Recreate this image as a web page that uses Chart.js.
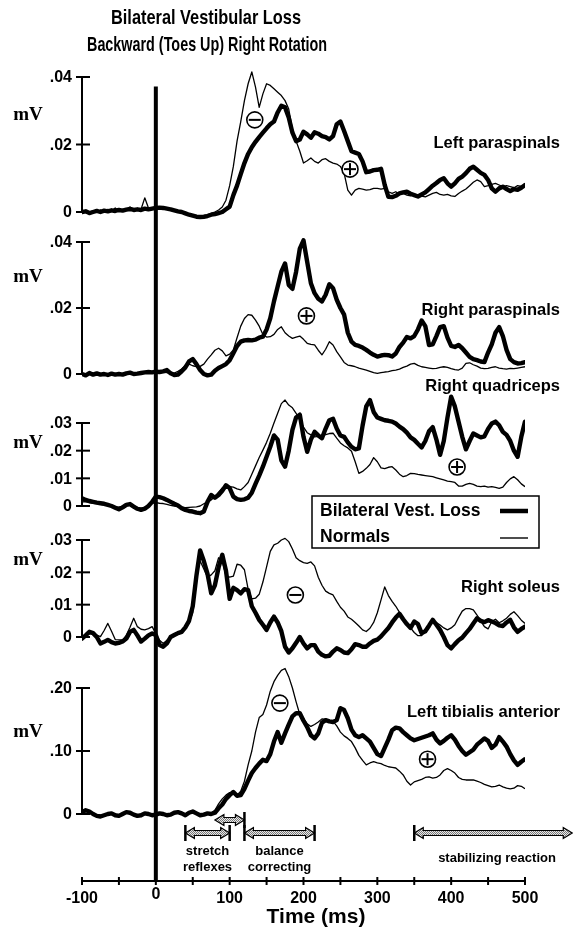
<!DOCTYPE html>
<html><head><meta charset="utf-8">
<script src="https://cdn.jsdelivr.net/npm/chart.js@4.4.0/dist/chart.umd.min.js"></script>
<style>html,body{margin:0;padding:0;background:#fff}canvas{display:block}</style>
</head><body>
<canvas id="c" width="573" height="930"></canvas>
<script>
// ---------- DATA ----------
const times = [-100,-95,-90,-85,-80,-75,-70,-65,-60,-55,-50,-45,-40,-35,-30,-25,-20,-15,-10,-5,
0,5,10,15,20,25,30,35,40,45,50,55,60,65,70,75,80,85,90,95,
100,105,110,115,120,125,130,135,140,145,150,155,160,165,170,175,180,185,190,195,
200,205,210,215,220,225,230,235,240,245,250,255,260,265,270,275,280,285,290,295,
300,305,310,315,320,325,330,335,340,345,350,355,360,365,370,375,380,385,390,395,
400,405,410,415,420,425,430,435,440,445,450,455,460,465,470,475,480,485,490,495,500];

const leftParaLoss = [0.000,0.0002,-0.0003,0.0000,0.0003,0.0000,0.0004,0.0002,0.0005,0.0003,0.0006,0.0004,0.0007,0.0009,0.0006,0.0008,0.0006,0.0010,0.0008,0.0010,
0.0012,0.0013,0.0012,0.0010,0.0008,0.0005,0.0002,0.0000,-0.0004,-0.0008,-0.0011,-0.0014,-0.0015,-0.0014,-0.0012,-0.0008,-0.0006,-0.0003,0.0000,0.0008,
0.0016,0.0050,0.0078,0.0112,0.0145,0.0172,0.0192,0.0208,0.0222,0.0235,0.0248,0.0260,0.0268,0.0295,0.0315,0.0310,0.0280,0.0235,0.0210,0.0215,
0.0238,0.0230,0.0220,0.0236,0.0232,0.0225,0.0222,0.0215,0.0225,0.0260,0.0268,0.0240,0.0210,0.0180,0.0176,0.0172,0.0150,0.0118,0.0120,0.0124,
0.0125,0.0128,0.0080,0.0045,0.0044,0.0048,0.0055,0.0058,0.0060,0.0054,0.0050,0.0046,0.0052,0.0058,0.0068,0.0078,0.0086,0.0095,0.0100,0.0085,
0.0075,0.0085,0.0098,0.0105,0.0115,0.0128,0.0134,0.0125,0.0116,0.0110,0.0095,0.0070,0.0060,0.0070,0.0075,0.0068,0.0062,0.0068,0.0066,0.0072,0.0080];
const leftParaNorm = [0.0000,0.0003,-0.0002,0.0004,0.0000,0.0006,0.0002,0.0008,0.0003,0.0012,0.0004,0.0008,0.0006,0.0015,0.0007,0.0010,0.0008,0.0042,0.0012,0.0009,
0.0011,0.0013,0.0012,0.0010,0.0008,0.0005,0.0002,0.0000,-0.0003,-0.0006,-0.0009,-0.0012,-0.0012,-0.0011,-0.0008,-0.0004,0.0000,0.0006,0.0015,0.0035,
0.0078,0.0135,0.0210,0.0268,0.0330,0.0380,0.0415,0.0370,0.0310,0.0350,0.0380,0.0375,0.0365,0.0355,0.0345,0.0330,0.0305,0.0245,0.0210,0.0180,
0.0145,0.0152,0.0160,0.0150,0.0145,0.0155,0.0158,0.0150,0.0145,0.0142,0.0135,0.0115,0.0065,0.0050,0.0065,0.0070,0.0068,0.0065,0.0066,0.0070,
0.0070,0.0068,0.0070,0.0060,0.0055,0.0060,0.0052,0.0055,0.0050,0.0048,0.0052,0.0050,0.0047,0.0045,0.0050,0.0055,0.0058,0.0052,0.0050,0.0052,
0.0048,0.0046,0.0055,0.0062,0.0068,0.0078,0.0088,0.0095,0.0090,0.0075,0.0078,0.0082,0.0085,0.0080,0.0075,0.0078,0.0075,0.0072,0.0078,0.0076,0.0078];

const rightParaLoss = [0.0000,-0.0004,0.0003,-0.0002,0.0002,-0.0002,0.0000,-0.0003,0.0001,-0.0002,0.0000,-0.0002,0.0002,0.0004,0.0000,0.0001,0.0003,0.0005,0.0006,0.0005,
0.0007,0.0006,0.0008,0.0012,0.0002,-0.0003,-0.0002,0.0008,0.0020,0.0038,0.0045,0.0030,0.0012,0.0000,-0.0004,-0.0002,0.0010,0.0018,0.0024,0.0030,
0.0042,0.0063,0.0085,0.0098,0.0102,0.0103,0.0102,0.0104,0.0110,0.0113,0.0135,0.0169,0.0220,0.0265,0.0310,0.0335,0.0270,0.0258,0.0310,0.0380,
0.0405,0.0340,0.0275,0.0245,0.0228,0.0220,0.0240,0.0272,0.0260,0.0225,0.0200,0.0180,0.0125,0.0098,0.0088,0.0085,0.0080,0.0073,0.0065,0.0058,
0.0053,0.0056,0.0058,0.0057,0.0053,0.0062,0.0082,0.0095,0.0112,0.0108,0.0115,0.0135,0.0162,0.0145,0.0088,0.0090,0.0115,0.0142,0.0145,0.0110,
0.0085,0.0082,0.0088,0.0078,0.0065,0.0052,0.0045,0.0042,0.0038,0.0036,0.0065,0.0090,0.0125,0.0142,0.0115,0.0073,0.0045,0.0036,0.0032,0.0033,0.0036];
const rightParaNorm = [0.0000,0.0000,0.0002,-0.0001,0.0001,0.0000,0.0002,0.0000,0.0001,0.0002,0.0001,0.0000,0.0002,0.0003,0.0002,0.0003,0.0004,0.0005,0.0004,0.0006,
0.0008,0.0007,0.0005,0.0004,0.0002,0.0003,0.0008,0.0015,0.0027,0.0030,0.0025,0.0022,0.0023,0.0030,0.0045,0.0058,0.0072,0.0078,0.0070,0.0055,
0.0060,0.0073,0.0110,0.0145,0.0168,0.0180,0.0178,0.0163,0.0145,0.0120,0.0112,0.0113,0.0120,0.0135,0.0143,0.0125,0.0115,0.0108,0.0112,0.0115,
0.0105,0.0093,0.0090,0.0088,0.0072,0.0058,0.0075,0.0098,0.0088,0.0068,0.0052,0.0035,0.0027,0.0025,0.0022,0.0018,0.0015,0.0012,0.0008,0.0004,
0.0002,0.0004,0.0006,0.0007,0.0010,0.0012,0.0015,0.0020,0.0024,0.0030,0.0032,0.0026,0.0022,0.0020,0.0018,0.0016,0.0017,0.0020,0.0022,0.0020,
0.0016,0.0013,0.0012,0.0018,0.0032,0.0034,0.0028,0.0024,0.0018,0.0016,0.0017,0.0020,0.0022,0.0018,0.0016,0.0015,0.0017,0.0016,0.0018,0.0020,0.0022];

const rightQuadLoss = [0.0028,0.0022,0.0018,0.0015,0.0012,0.0010,0.0008,0.0004,0.0000,-0.0006,-0.0012,-0.0005,0.0004,0.0007,-0.0002,-0.0010,-0.0014,-0.0010,0.0000,0.0015,
0.0034,0.0032,0.0028,0.0022,0.0015,0.0008,0.0002,-0.0008,-0.0014,-0.0018,-0.0020,-0.0024,-0.0026,-0.0020,0.0015,0.0040,0.0030,0.0040,0.0055,0.0075,
0.0065,0.0034,0.0025,0.0022,0.0024,0.0030,0.0048,0.0080,0.0110,0.0142,0.0178,0.0214,0.0255,0.0240,0.0165,0.0142,0.0200,0.0275,0.0320,0.0330,
0.0250,0.0196,0.0240,0.0268,0.0255,0.0245,0.0280,0.0310,0.0315,0.0280,0.0255,0.0250,0.0230,0.0214,0.0205,0.0208,0.0290,0.0360,0.0383,0.0340,
0.0320,0.0315,0.0310,0.0308,0.0305,0.0298,0.0287,0.0278,0.0265,0.0248,0.0239,0.0225,0.0212,0.0235,0.0270,0.0285,0.0240,0.0185,0.0235,0.0320,
0.0395,0.0360,0.0305,0.0250,0.0205,0.0235,0.0262,0.0255,0.0248,0.0252,0.0278,0.0298,0.0305,0.0292,0.0268,0.0257,0.0235,0.0200,0.0178,0.0250,0.0305];
const rightQuadNorm = [0.0015,0.0016,0.0012,0.0010,0.0009,0.0006,0.0004,0.0003,0.0000,-0.0003,-0.0004,0.0000,0.0002,0.0004,0.0000,-0.0005,-0.0008,-0.0004,0.0002,0.0010,
0.0012,0.0010,0.0009,0.0006,0.0002,0.0000,-0.0002,-0.0004,-0.0006,-0.0005,-0.0004,-0.0003,0.0000,0.0008,0.0015,0.0022,0.0035,0.0050,0.0065,0.0070,
0.0070,0.0068,0.0062,0.0058,0.0070,0.0085,0.0115,0.0145,0.0175,0.0202,0.0230,0.0263,0.0300,0.0335,0.0370,0.0383,0.0365,0.0355,0.0335,0.0310,
0.0285,0.0265,0.0257,0.0250,0.0252,0.0255,0.0258,0.0262,0.0263,0.0245,0.0228,0.0218,0.0210,0.0198,0.0160,0.0118,0.0125,0.0136,0.0150,0.0175,
0.0160,0.0138,0.0135,0.0140,0.0142,0.0130,0.0115,0.0106,0.0110,0.0118,0.0117,0.0114,0.0112,0.0110,0.0108,0.0106,0.0102,0.0098,0.0094,0.0090,
0.0088,0.0085,0.0072,0.0072,0.0078,0.0082,0.0078,0.0072,0.0070,0.0072,0.0068,0.0070,0.0067,0.0064,0.0068,0.0085,0.0098,0.0106,0.0095,0.0080,0.0070];

const rightSoleusLoss = [-0.0005,0.0005,0.0016,0.0012,0.0000,-0.0020,-0.0015,-0.0009,-0.0016,-0.0020,-0.0018,-0.0014,-0.0005,0.0016,0.0022,0.0005,-0.0014,-0.0005,0.0005,0.0011,
0.0006,-0.0025,-0.0030,-0.0020,0.0000,0.0006,0.0012,0.0016,0.0030,0.0050,0.0095,0.0190,0.0268,0.0235,0.0195,0.0135,0.0160,0.0215,0.0254,0.0205,
0.0118,0.0152,0.0145,0.0135,0.0148,0.0145,0.0095,0.0075,0.0053,0.0038,0.0022,0.0045,0.0063,0.0045,0.0018,-0.0030,-0.0048,-0.0035,-0.0018,0.0000,
-0.0020,-0.0035,-0.0025,-0.0025,-0.0045,-0.0055,-0.0060,-0.0058,-0.0045,-0.0035,-0.0040,-0.0048,-0.0050,-0.0038,-0.0022,-0.0025,-0.0030,-0.0030,-0.0020,-0.0012,
-0.0008,0.0002,0.0015,0.0028,0.0045,0.0060,0.0072,0.0055,0.0040,0.0028,0.0048,0.0040,0.0012,0.0018,0.0035,0.0053,0.0038,0.0022,0.0000,-0.0025,
-0.0035,-0.0022,-0.0010,-0.0002,0.0012,0.0025,0.0042,0.0058,0.0050,0.0046,0.0052,0.0048,0.0043,0.0036,0.0034,0.0045,0.0053,0.0030,0.0016,0.0025,0.0032];
const rightSoleusNorm = [0.0000,0.0006,0.0010,0.0011,0.0006,0.0001,0.0020,0.0042,0.0018,-0.0008,-0.0009,-0.0009,0.0005,0.0030,0.0058,0.0032,0.0024,0.0022,0.0026,0.0032,
0.0010,-0.0010,-0.0020,-0.0010,0.0000,0.0004,0.0008,0.0014,0.0025,0.0045,0.0075,0.0190,0.0235,0.0210,0.0185,0.0192,0.0205,0.0245,0.0235,0.0190,
0.0185,0.0188,0.0225,0.0222,0.0208,0.0148,0.0118,0.0120,0.0132,0.0170,0.0217,0.0265,0.0285,0.0290,0.0300,0.0305,0.0295,0.0272,0.0245,0.0236,
0.0230,0.0228,0.0232,0.0220,0.0185,0.0160,0.0142,0.0135,0.0130,0.0110,0.0092,0.0080,0.0062,0.0055,0.0045,0.0034,0.0022,0.0017,0.0027,0.0045,
0.0075,0.0115,0.0155,0.0128,0.0110,0.0095,0.0076,0.0060,0.0042,0.0028,0.0014,0.0004,0.0004,0.0018,0.0035,0.0052,0.0045,0.0037,0.0028,0.0022,
0.0028,0.0038,0.0060,0.0080,0.0088,0.0088,0.0084,0.0068,0.0050,0.0032,0.0025,0.0048,0.0055,0.0044,0.0050,0.0058,0.0070,0.0078,0.0066,0.0052,0.0042];

const leftTibLoss = [0.003,0.006,0.004,0.000,-0.003,-0.004,-0.002,0.000,0.001,-0.002,-0.003,0.000,0.003,0.002,-0.001,-0.003,-0.002,0.001,0.000,-0.002,
-0.001,0.001,0.000,-0.002,-0.001,0.002,0.003,0.001,-0.002,0.002,0.004,0.001,-0.002,-0.001,0.001,0.000,0.002,0.009,0.015,0.024,
0.030,0.035,0.029,0.030,0.040,0.053,0.065,0.073,0.080,0.086,0.084,0.095,0.115,0.130,0.113,0.128,0.142,0.155,0.160,0.160,
0.148,0.138,0.125,0.120,0.128,0.145,0.149,0.147,0.146,0.149,0.168,0.165,0.152,0.134,0.125,0.122,0.125,0.120,0.115,0.105,
0.095,0.092,0.105,0.118,0.133,0.137,0.136,0.130,0.125,0.120,0.117,0.119,0.121,0.123,0.125,0.128,0.118,0.112,0.116,0.121,
0.125,0.118,0.108,0.100,0.094,0.098,0.102,0.110,0.115,0.120,0.116,0.105,0.110,0.122,0.115,0.107,0.095,0.085,0.078,0.083,0.087];
const leftTibNorm = [0.002,0.004,0.002,0.000,-0.002,-0.002,-0.001,0.000,0.001,-0.001,-0.002,0.000,0.002,0.001,0.000,-0.002,-0.001,0.001,0.000,-0.001,
0.000,0.001,0.000,-0.001,0.000,0.001,0.002,0.001,-0.001,0.001,0.002,0.001,0.000,0.000,0.001,0.002,0.006,0.016,0.024,0.030,
0.034,0.034,0.030,0.036,0.052,0.078,0.100,0.130,0.153,0.158,0.173,0.195,0.210,0.220,0.228,0.231,0.218,0.200,0.178,0.158,
0.152,0.143,0.139,0.142,0.146,0.151,0.150,0.148,0.147,0.140,0.130,0.124,0.120,0.115,0.105,0.093,0.085,0.078,0.081,0.083,
0.081,0.080,0.077,0.075,0.074,0.073,0.068,0.062,0.052,0.046,0.051,0.053,0.055,0.058,0.059,0.057,0.058,0.062,0.069,0.072,
0.069,0.065,0.058,0.055,0.054,0.054,0.054,0.052,0.050,0.047,0.045,0.043,0.044,0.046,0.043,0.041,0.040,0.041,0.045,0.044,0.040];

const muscleNames = ['Left paraspinals','Right paraspinals','Right quadriceps','Right soleus','Left tibialis anterior'];
const seriesNames = ['Bilateral Vest. Loss','Normals'];
const p1Ticks = [0, 0.02, 0.04], p1TickLabels = ['0', '.02', '.04'];
const p2Ticks = [0, 0.02, 0.04], p2TickLabels = ['0', '.02', '.04'];
const p3Ticks = [0, 0.01, 0.02, 0.03], p3TickLabels = ['0', '.01', '.02', '.03'];
const p4Ticks = [0, 0.01, 0.02, 0.03], p4TickLabels = ['0', '.01', '.02', '.03'];
const p5Ticks = [0, 0.10, 0.20], p5TickLabels = ['0', '.10', '.20'];
const xTicks = [-100,-50,0,50,100,150,200,250,300,350,400,450,500];
const xTickLabels = ['-100','','0','','100','','200','','300','','400','','500'];
// difference markers: [panel, time, value, sign]
const markers = [[0,134,0.0273,'-'],[0,263,0.0127,'+'],[1,204,0.0176,'+'],[2,408,0.0141,'+'],[3,189,0.0130,'-'],[4,168,0.176,'-'],[4,368,0.087,'+']];
// response phases (ms)
const phases = [
  {from:80, to:120, row:0, bars:[false,true], text:[]},
  {from:40, to:100, row:1, bars:[true,true], text:['stretch','reflexes']},
  {from:120, to:215, row:1, bars:[true,true], text:['balance','correcting']},
  {from:350, to:564, row:1, bars:[true,false], text:['stabilizing reaction']}
];

// ---------- LAYOUT ----------
const CA = {left:82, right:525, top:60, bottom:880};
const panelLayout = [
  {zero:212, top:77,  mv:115, label:143},
  {zero:374, top:242, mv:277, label:310},
  {zero:506, top:423, mv:443, label:386},
  {zero:637, top:540, mv:560, label:587},
  {zero:814, top:688, mv:732, label:712}
];
const panels = [
  {loss:leftParaLoss, norm:leftParaNorm, ticks:p1Ticks, tl:p1TickLabels},
  {loss:rightParaLoss, norm:rightParaNorm, ticks:p2Ticks, tl:p2TickLabels},
  {loss:rightQuadLoss, norm:rightQuadNorm, ticks:p3Ticks, tl:p3TickLabels},
  {loss:rightSoleusLoss, norm:rightSoleusNorm, ticks:p4Ticks, tl:p4TickLabels},
  {loss:leftTibLoss, norm:leftTibNorm, ticks:p5Ticks, tl:p5TickLabels}
];
const SANS = '"Liberation Sans", Arial, Helvetica, sans-serif';
const SERIF = '"Liberation Serif", "Times New Roman", serif';

const scales = { x: {type:'linear', min:xTicks[0], max:xTicks[xTicks.length-1], display:false} };
const datasets = [];
panels.forEach((p, i) => {
  const L = panelLayout[i];
  const topVal = p.ticks[p.ticks.length-1];
  const k = (L.zero - L.top) / topVal;
  scales['y'+i] = {type:'linear', display:false, min: -(CA.bottom - L.zero)/k, max: (L.zero - CA.top)/k};
  datasets.push({label: seriesNames[0]+' '+muscleNames[i], data: times.map((t,j)=>({x:t, y:p.loss[j]})), yAxisID:'y'+i,
    borderColor:'#000', borderWidth:4.4, pointRadius:0, tension:0, borderJoinStyle:'round', borderCapStyle:'round', order:0});
  datasets.push({label: seriesNames[1]+' '+muscleNames[i], data: times.map((t,j)=>({x:t, y:p.norm[j]})), yAxisID:'y'+i,
    borderColor:'#000', borderWidth:1.3, pointRadius:0, tension:0, borderJoinStyle:'round', order:1});
});

function makePattern(ctx){
  const c = document.createElement('canvas'); c.width = 2; c.height = 2;
  const g = c.getContext('2d');
  g.fillStyle = '#e8e8e8'; g.fillRect(0,0,2,2);
  g.fillStyle = '#777'; g.fillRect(0,0,1,1); g.fillRect(1,1,1,1);
  return ctx.createPattern(c, 'repeat');
}
function fitText(ctx, txt, cx, cy, w){
  const m = ctx.measureText(txt).width;
  ctx.save(); ctx.translate(cx, cy); ctx.scale(w / m, 1); ctx.fillText(txt, 0, 0); ctx.restore();
}

const overlay = {
  id: 'overlay',
  afterDatasetsDraw(chart) {
    const ctx = chart.ctx, xs = chart.scales.x;
    const x0 = xs.getPixelForValue(xTicks[0]);
    const line = (a,b,c,d) => { ctx.beginPath(); ctx.moveTo(a,b); ctx.lineTo(c,d); ctx.stroke(); };
    ctx.save();
    ctx.strokeStyle = '#000'; ctx.fillStyle = '#000';
    // title (condensed bold)
    ctx.textAlign = 'center'; ctx.textBaseline = 'middle';
    ctx.font = 'bold 21px ' + SANS;
    fitText(ctx, 'Bilateral Vestibular Loss', 206, 18, 190);
    fitText(ctx, 'Backward (Toes Up) Right Rotation', 207, 45, 240);
    // stimulus line at t = 0
    const xs0 = xs.getPixelForValue(0);
    ctx.lineWidth = 4;
    line(xs0, chart.scales.y0.getPixelForValue(0.0372), xs0, CA.bottom + 1);
    // panel axes
    panels.forEach((p, i) => {
      const ys = chart.scales['y'+i], L = panelLayout[i];
      const yTop = ys.getPixelForValue(p.ticks[p.ticks.length-1]), yZero = ys.getPixelForValue(0);
      ctx.lineWidth = 2;
      line(x0, yTop, x0, yZero + 1);
      ctx.font = 'bold 16px ' + SANS; ctx.textAlign = 'right'; ctx.textBaseline = 'middle';
      p.ticks.forEach((v, j) => {
        const y = ys.getPixelForValue(v);
        line(x0 - 6, y, x0 + 8, y);
        ctx.fillText(p.tl[j], x0 - 10, y + 1);
      });
      ctx.font = 'bold 19px ' + SERIF; ctx.textAlign = 'center';
      ctx.fillText('mV', 28, L.mv);
      ctx.font = 'bold 16.5px ' + SANS; ctx.textAlign = 'right';
      ctx.fillText(muscleNames[i], 560, L.label);
    });
    // difference markers
    markers.forEach(([pi, t, v, s]) => {
      const cx = xs.getPixelForValue(t), cy = chart.scales['y'+pi].getPixelForValue(v);
      ctx.fillStyle = '#fff'; ctx.lineWidth = 1.6;
      ctx.beginPath(); ctx.arc(cx, cy, 8, 0, Math.PI*2); ctx.fill(); ctx.stroke();
      ctx.lineWidth = 2;
      line(cx - 6, cy, cx + 6, cy);
      if (s === '+') line(cx, cy - 6, cx, cy + 6);
    });
    ctx.fillStyle = '#000';
    // legend
    ctx.fillStyle = '#fff'; ctx.fillRect(312, 496, 227, 52);
    ctx.lineWidth = 1.5; ctx.strokeRect(312, 496, 227, 52);
    ctx.fillStyle = '#000'; ctx.font = 'bold 17.5px ' + SANS; ctx.textAlign = 'left'; ctx.textBaseline = 'middle';
    ctx.fillText(seriesNames[0], 320, 511);
    ctx.fillText(seriesNames[1], 320, 537);
    ctx.lineWidth = 4.5; line(500, 511, 528, 511);
    ctx.lineWidth = 1.4; line(500, 538, 528, 538);
    // phase arrows
    const pat = makePattern(ctx);
    const rowY = [820, 833];
    phases.forEach(ph => {
      const a = xs.getPixelForValue(ph.from), b = xs.getPixelForValue(ph.to), y = rowY[ph.row];
      const h = 2.5, H = 5.5, Lh = 9;
      ctx.beginPath();
      ctx.moveTo(a, y); ctx.lineTo(a+Lh, y-H); ctx.lineTo(a+Lh, y-h); ctx.lineTo(b-Lh, y-h); ctx.lineTo(b-Lh, y-H);
      ctx.lineTo(b, y); ctx.lineTo(b-Lh, y+H); ctx.lineTo(b-Lh, y+h); ctx.lineTo(a+Lh, y+h); ctx.lineTo(a+Lh, y+H); ctx.closePath();
      ctx.fillStyle = pat; ctx.fill(); ctx.lineWidth = 1.2; ctx.strokeStyle = '#000'; ctx.stroke();
      ctx.lineWidth = 2.5;
      if (ph.bars[0]) line(a, y-8, a, y+8);
      if (ph.bars[1]) line(b, y-8, b, y+8);
      ctx.fillStyle = '#000'; ctx.font = 'bold 13px ' + SANS; ctx.textAlign = 'center';
      if (ph.text.length === 2) { ctx.fillText(ph.text[0], (a+b)/2, 851); ctx.fillText(ph.text[1], (a+b)/2, 867); }
      else if (ph.text.length === 1) { ctx.fillText(ph.text[0], 497, 858); }
    });
    // time axis
    ctx.strokeStyle = '#000'; ctx.lineWidth = 2;
    const ya = CA.bottom + 1;
    line(x0, ya, xs.getPixelForValue(xTicks[xTicks.length-1]), ya);
    ctx.font = 'bold 16px ' + SANS; ctx.textAlign = 'center'; ctx.textBaseline = 'middle';
    xTicks.forEach((t, j) => {
      const x = xs.getPixelForValue(t);
      line(x, ya - 4, x, ya + 4);
      if (xTickLabels[j]) ctx.fillText(xTickLabels[j], x, t === 0 ? 895 : 899);
    });
    ctx.font = 'bold 21px ' + SANS;
    ctx.fillText('Time (ms)', 316, 917);
    ctx.restore();
  }
};

new Chart(document.getElementById('c'), {
  type: 'line',
  data: { datasets },
  options: {
    responsive: false, animation: false, devicePixelRatio: 1,
    layout: { padding: { left: CA.left, right: 573 - CA.right, top: CA.top, bottom: 930 - CA.bottom } },
    plugins: { legend: {display:false}, tooltip: {enabled:false}, title: {display:false} },
    scales
  },
  plugins: [overlay]
});
</script>
</body></html>
